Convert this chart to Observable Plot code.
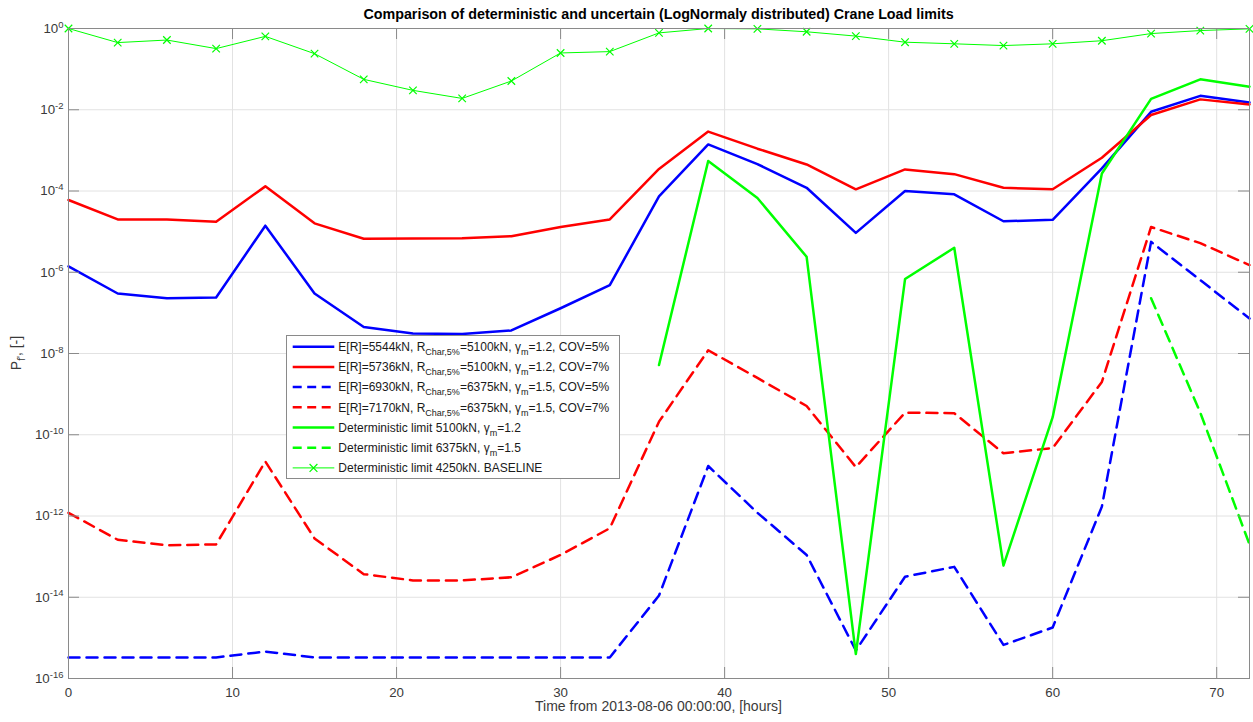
<!DOCTYPE html>
<html>
<head>
<meta charset="utf-8">
<script src="https://cdn.jsdelivr.net/npm/d3@7"></script>
<script src="https://cdn.jsdelivr.net/npm/@observablehq/plot@0.6"></script>
<style>
  html, body { margin: 0; padding: 0; background: #fff; }
  svg { display: block; }
</style>
</head>
<body>
<div id="chart"></div>
<script>
// ---------------- data ----------------
const hours = [0,3,6,9,12,15,18,21,24,27,30,33,36,39,42,45,48,51,54,57,60,63,66,69,72];

// E[R]=5544kN, COV=5%
const pf5544 = [1.4e-6,3.0e-7,2.3e-7,2.4e-7,1.4e-5,3.0e-7,4.5e-8,3.1e-8,3.0e-8,3.7e-8,1.3e-7,4.8e-7,
                7.4e-5,1.4e-3,4.6e-4,1.2e-4,9.3e-6,1.0e-4,8.3e-5,1.8e-5,1.95e-5,3.6e-4,8.9e-3,2.2e-2,1.5e-2];
// E[R]=5736kN, COV=7%
const pf5736 = [6.0e-5,2.0e-5,2.0e-5,1.75e-5,1.3e-4,1.6e-5,6.7e-6,6.8e-6,6.9e-6,7.7e-6,1.3e-5,2.0e-5,
                3.5e-4,2.9e-3,1.1e-3,4.5e-4,1.1e-4,3.4e-4,2.6e-4,1.2e-4,1.1e-4,6.6e-4,7.4e-3,1.8e-2,1.35e-2];
// E[R]=6930kN, COV=5%
const pf6930 = [3.3e-16,3.3e-16,3.3e-16,3.3e-16,4.6e-16,3.3e-16,3.3e-16,3.3e-16,3.3e-16,3.3e-16,3.3e-16,3.3e-16,
                1.1e-14,1.7e-11,1.2e-12,1.1e-13,4.9e-16,3.2e-14,5.6e-14,6.7e-16,1.8e-15,1.7e-12,5.6e-6,6.4e-7,7.3e-8];
// E[R]=7170kN, COV=7%
const pf7170 = [1.2e-12,2.6e-13,1.9e-13,2.0e-13,2.2e-11,2.8e-13,3.7e-14,2.6e-14,2.6e-14,3.1e-14,1.1e-13,5.0e-13,
                2.1e-10,1.2e-8,2.5e-9,5.1e-10,1.6e-11,3.5e-10,3.4e-10,3.5e-11,4.7e-11,2.0e-9,1.3e-5,5.2e-6,1.5e-6];
// Deterministic limit 5100kN
const pfDet5100 = [null,null,null,null,null,null,null,null,null,null,null,null,
                   5.2e-9,5.5e-4,6.7e-5,2.4e-6,4.0e-16,6.8e-7,4.0e-6,6.0e-14,2.7e-10,2.7e-4,1.85e-2,5.6e-2,3.7e-2];
// Deterministic limit 6375kN
const pfDet6375 = [null,null,null,null,null,null,null,null,null,null,null,null,
                   null,null,null,null,null,null,null,null,null,null,2.3e-7,3.5e-10,2.0e-13];
// Deterministic limit 4250kN, baseline
const pfBase4250 = [1.0,0.45,0.52,0.32,0.64,0.24,0.056,0.030,0.019,0.051,0.25,0.27,
                    0.78,1.0,0.98,0.83,0.65,0.46,0.42,0.38,0.42,0.50,0.75,0.89,0.98];

const xTicks = [0,10,20,30,40,50,60,70];
const yTicks = [1e-16,1e-14,1e-12,1e-10,1e-8,1e-6,1e-4,1e-2,1];

const titleText = "Comparison of deterministic and uncertain (LogNormaly distributed) Crane Load limits";
const xLabelText = "Time from 2013-08-06 00:00:00, [hours]";

// legend entries: parts, with sub-scripted pieces
const legendItems = [
  {parts: [["E[R]=5544kN, R"],["Char,5%","sub"],["=5100kN, "],["γ"],["m","sub"],["=1.2, COV=5%"]], color: "#0000ff", dash: null, thick: true},
  {parts: [["E[R]=5736kN, R"],["Char,5%","sub"],["=5100kN, "],["γ"],["m","sub"],["=1.2, COV=7%"]], color: "#ff0000", dash: null, thick: true},
  {parts: [["E[R]=6930kN, R"],["Char,5%","sub"],["=6375kN, "],["γ"],["m","sub"],["=1.5, COV=5%"]], color: "#0000ff", dash: "dash", thick: true},
  {parts: [["E[R]=7170kN, R"],["Char,5%","sub"],["=6375kN, "],["γ"],["m","sub"],["=1.5, COV=7%"]], color: "#ff0000", dash: "dash", thick: true},
  {parts: [["Deterministic limit 5100kN, "],["γ"],["m","sub"],["=1.2"]], color: "#00ff00", dash: null, thick: true},
  {parts: [["Deterministic limit 6375kN, "],["γ"],["m","sub"],["=1.5"]], color: "#00ff00", dash: "dash", thick: true},
  {parts: [["Deterministic limit 4250kN. BASELINE"]], color: "#00ff00", dash: null, thick: false, marker: true}
];

// ---------------- layout ----------------
const W = 1253, H = 722, mL = 68, mR = 4, mT = 28, mB = 44;
const pw = W - mL - mR, ph = H - mT - mB;
const axisColor = "#8a8a8a", gridColor = "#e2e2e2", textColor = "#3a3a3a";
const thick = 2.5, thin = 1, dashArr = "11,7";
const font = "'Liberation Sans', Arial, Helvetica, sans-serif";

const rows = (vals) => hours.map((h, i) => ({h, p: vals[i]})).filter(d => d.p != null);

const plot = Plot.plot({
  width: W, height: H,
  marginLeft: mL, marginRight: mR, marginTop: mT, marginBottom: mB,
  style: {fontFamily: font, fontSize: "13.3px", color: textColor, background: "#fff"},
  x: {domain: [0, 72]},
  y: {type: "log", domain: [1e-16, 1]},
  marks: [
    Plot.ruleX(xTicks, {x: d => d, stroke: gridColor, strokeWidth: 1}),
    Plot.ruleY(yTicks, {y: d => d, stroke: gridColor, strokeWidth: 1}),
    Plot.line(rows(pf5544), {x: "h", y: "p", stroke: "#0000ff", strokeWidth: thick}),
    Plot.line(rows(pf5736), {x: "h", y: "p", stroke: "#ff0000", strokeWidth: thick}),
    Plot.line(rows(pf6930), {x: "h", y: "p", stroke: "#0000ff", strokeWidth: thick, strokeDasharray: dashArr}),
    Plot.line(rows(pf7170), {x: "h", y: "p", stroke: "#ff0000", strokeWidth: thick, strokeDasharray: dashArr}),
    Plot.line(rows(pfDet5100), {x: "h", y: "p", stroke: "#00ff00", strokeWidth: thick}),
    Plot.line(rows(pfDet6375), {x: "h", y: "p", stroke: "#00ff00", strokeWidth: thick, strokeDasharray: dashArr}),
    Plot.line(rows(pfBase4250), {x: "h", y: "p", stroke: "#00ff00", strokeWidth: thin}),
    Plot.dot(rows(pfBase4250), {x: "h", y: "p", symbol: "times", r: 3.5, stroke: "#00ff00", strokeWidth: 1.2}),
    // inward tick marks on all four sides
    Plot.ruleX(xTicks, {x: d => d, stroke: axisColor, insetTop: ph - 11}),
    Plot.ruleX(xTicks, {x: d => d, stroke: axisColor, insetBottom: ph - 11}),
    Plot.ruleY(yTicks, {y: d => d, stroke: axisColor, insetRight: pw - 11}),
    Plot.ruleY(yTicks, {y: d => d, stroke: axisColor, insetLeft: pw - 11}),
    Plot.frame({stroke: axisColor, strokeWidth: 1}),
    Plot.axisX({ticks: xTicks, tickSize: 0, tickPadding: 9, label: null}),
    Plot.axisY({ticks: yTicks, tickSize: 0, tickPadding: 5, label: null,
                tickFormat: d => "10^" + Math.round(Math.log10(d))})
  ]
});

document.getElementById("chart").appendChild(plot);
const svg = d3.select(plot);

// superscripts on y tick labels
svg.selectAll('g[aria-label="y-axis tick label"] text').each(function () {
  const t = d3.select(this);
  const s = t.text();
  const e = s.split("^")[1];
  t.text("10");
  t.append("tspan").attr("dy", "-0.55em").attr("font-size", "9.5px").text(e);
});

// title
svg.append("text")
  .attr("x", mL + pw / 2).attr("y", 19)
  .attr("text-anchor", "middle")
  .attr("font-family", font).attr("font-size", "14.3px").attr("font-weight", "bold")
  .attr("fill", "#000")
  .text(titleText);

// x label
svg.append("text")
  .attr("x", mL + pw / 2).attr("y", 711)
  .attr("text-anchor", "middle")
  .attr("font-family", font).attr("font-size", "14px")
  .attr("fill", textColor)
  .text(xLabelText);

// y label: P_f', [-]
const yl = svg.append("text")
  .attr("transform", `translate(21,${mT + ph / 2}) rotate(-90)`)
  .attr("text-anchor", "middle")
  .attr("font-family", font).attr("font-size", "14px")
  .attr("fill", textColor);
yl.append("tspan").text("P");
yl.append("tspan").attr("dy", 4).attr("font-size", "10px").text("f'");
yl.append("tspan").attr("dy", -4).text(", [-]");

// legend
const lg = svg.append("g").attr("font-family", font).attr("font-size", "12px").attr("text-anchor", "start");
const lx = 286.5, ly = 335.5, lw = 333, lh = 143;
lg.append("rect").attr("x", lx).attr("y", ly).attr("width", lw).attr("height", lh)
  .attr("fill", "#fff").attr("stroke", axisColor).attr("stroke-width", 1);
legendItems.forEach((it, i) => {
  const cy = 346.7 + i * 20.2;
  const ln = lg.append("line").attr("x1", 292.7).attr("x2", 334.3).attr("y1", cy).attr("y2", cy)
    .attr("stroke", it.color).attr("stroke-width", it.thick ? thick : thin);
  if (it.dash) ln.attr("stroke-dasharray", "9,5.5");
  if (it.marker) {
    const mx = 313.5, r = 3.9;
    lg.append("path").attr("d", `M${mx - r},${cy - r}L${mx + r},${cy + r}M${mx - r},${cy + r}L${mx + r},${cy - r}`)
      .attr("stroke", it.color).attr("stroke-width", 1.2).attr("fill", "none");
  }
  const t = lg.append("text").attr("x", 338.3).attr("y", cy + 4.3).attr("fill", "#1a1a1a").attr("text-anchor", "start");
  let shifted = false;
  it.parts.forEach(([s, kind]) => {
    const sp = t.append("tspan").text(s);
    if (kind === "sub" && !shifted) { sp.attr("dy", 4).attr("font-size", "9px"); shifted = true; }
    else if (kind === "sub") { sp.attr("font-size", "9px"); }
    else if (shifted) { sp.attr("dy", -4); shifted = false; }
  });
});
</script>
</body>
</html>
